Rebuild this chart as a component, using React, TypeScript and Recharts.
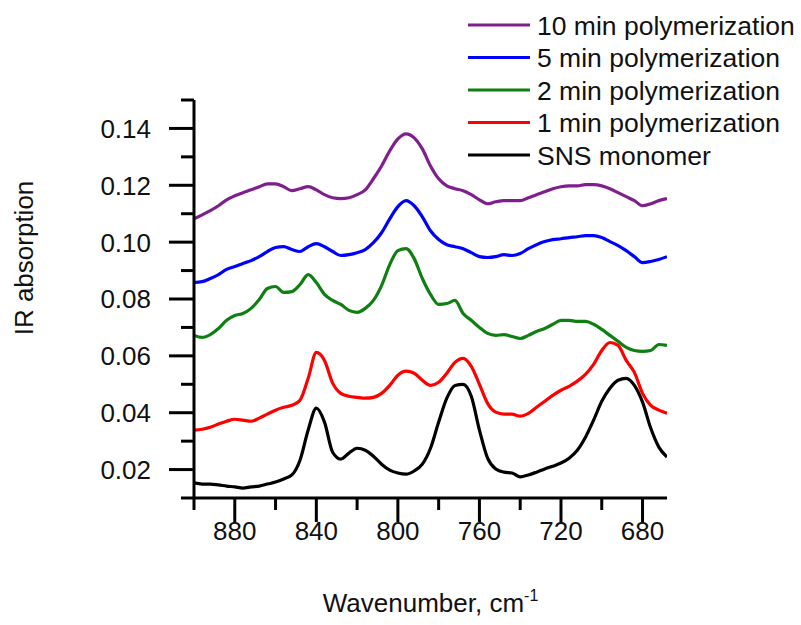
import { LineChart, Line, XAxis, YAxis, Legend } from 'recharts'

// wavenumber, cm-1 (axis runs high -> low)
const wavenumber = [
    900, 896, 892, 888, 884, 880, 876, 872, 868, 864, 860, 856, 852, 848, 844, 840, 836, 832, 828, 824,
    820, 816, 812, 808, 804, 800, 796, 792, 788, 784, 780, 776, 772, 768, 764, 760, 756, 752, 748, 744,
    740, 736, 732, 728, 724, 720, 716, 712, 708, 704, 700, 696, 692, 688, 684, 680, 676, 672, 668,
]

const snsMonomer = [
    0.0153, 0.0149, 0.0149, 0.0146, 0.0142, 0.0139, 0.0135, 0.0139, 0.0142, 0.0149, 0.0156, 0.0167, 0.0181, 0.0233, 0.0339, 0.0416, 0.0367, 0.0261, 0.0237, 0.0258,
    0.0275, 0.0268, 0.0247, 0.0219, 0.0198, 0.0188, 0.0184, 0.0195, 0.0219, 0.0275, 0.0367, 0.0451, 0.0496, 0.05, 0.0458, 0.0339, 0.024, 0.0202, 0.0191, 0.0188,
    0.0174, 0.0181, 0.0191, 0.0202, 0.0212, 0.0223, 0.024, 0.0268, 0.0314, 0.0374, 0.044, 0.0486, 0.0514, 0.0521, 0.0496, 0.0437, 0.0346, 0.0279, 0.0244,
]

const min1 = [
    0.0339, 0.0342, 0.0349, 0.036, 0.037, 0.0377, 0.0374, 0.037, 0.0381, 0.0395, 0.0409, 0.0419, 0.0426, 0.0444, 0.0521, 0.0612, 0.0584, 0.0504, 0.0468, 0.0458,
    0.0454, 0.0451, 0.0454, 0.0468, 0.0496, 0.0532, 0.0546, 0.0539, 0.0514, 0.0496, 0.0507, 0.0539, 0.0577, 0.0591, 0.0563, 0.05, 0.0433, 0.0402, 0.0395, 0.0395,
    0.0388, 0.0398, 0.0419, 0.044, 0.0461, 0.0479, 0.0493, 0.0511, 0.0535, 0.057, 0.0619, 0.0647, 0.0637, 0.0584, 0.0542, 0.0468, 0.0426, 0.0409, 0.0398,
]

const min2 = [
    0.0672, 0.0665, 0.0675, 0.0696, 0.0725, 0.0742, 0.0749, 0.0767, 0.0798, 0.0837, 0.0844, 0.0823, 0.0826, 0.0851, 0.0886, 0.0858, 0.0816, 0.0795, 0.0781, 0.076,
    0.0753, 0.0767, 0.0795, 0.0847, 0.0921, 0.097, 0.0977, 0.0942, 0.0872, 0.0816, 0.0781, 0.0784, 0.0795, 0.0749, 0.0725, 0.07, 0.0679, 0.0672, 0.0675, 0.0668,
    0.0661, 0.0672, 0.0686, 0.0696, 0.0711, 0.0725, 0.0725, 0.0721, 0.0721, 0.0711, 0.0693, 0.0672, 0.0651, 0.063, 0.0619, 0.0616, 0.0619, 0.064, 0.0637,
]

const min5 = [
    0.0858, 0.0861, 0.0872, 0.0886, 0.0904, 0.0914, 0.0925, 0.0935, 0.0949, 0.0967, 0.0981, 0.0984, 0.0974, 0.0967, 0.0984, 0.0995, 0.0984, 0.0967, 0.0953, 0.0956,
    0.0963, 0.0974, 0.0998, 0.1033, 0.1082, 0.1125, 0.1146, 0.1128, 0.1089, 0.104, 0.1009, 0.0991, 0.0984, 0.0977, 0.0963, 0.0949, 0.0946, 0.0949, 0.0956, 0.0953,
    0.096, 0.0977, 0.0991, 0.1002, 0.1009, 0.1012, 0.1016, 0.1019, 0.1023, 0.1023, 0.1016, 0.1002, 0.0988, 0.097, 0.0949, 0.0928, 0.0932, 0.0939, 0.0949,
]

const min10 = [
    0.1082, 0.1096, 0.1111, 0.1128, 0.1149, 0.1163, 0.1174, 0.1184, 0.1195, 0.1205, 0.1205, 0.1195, 0.1181, 0.1188, 0.1195, 0.1184, 0.1167, 0.1156, 0.1153, 0.1156,
    0.1167, 0.1184, 0.1223, 0.1268, 0.1321, 0.1363, 0.1381, 0.1367, 0.1328, 0.1268, 0.1223, 0.1198, 0.1188, 0.1181, 0.1167, 0.1149, 0.1135, 0.1142, 0.1146, 0.1146,
    0.1146, 0.1156, 0.1167, 0.1177, 0.1188, 0.1195, 0.1198, 0.1198, 0.1202, 0.1202, 0.1198, 0.1188, 0.1174, 0.116, 0.1146, 0.1128, 0.1135, 0.1146, 0.1153,
]

const xTicks = [900, 880, 860, 840, 820, 800, 780, 760, 740, 720, 700, 680]
const yTicks = [0.01, 0.02, 0.03, 0.04, 0.05, 0.06, 0.07, 0.08, 0.09, 0.1, 0.11, 0.12, 0.13, 0.14, 0.15]

const FONT = '"Liberation Sans", Arial, sans-serif'

// legend order top -> bottom
const series = [
    { key: 'min10', name: '10 min polymerization', color: '#7f1f8e' },
    { key: 'min5', name: '5 min polymerization', color: '#0000ff' },
    { key: 'min2', name: '2 min polymerization', color: '#0f7f12' },
    { key: 'min1', name: '1 min polymerization', color: '#ff0000' },
    { key: 'sns', name: 'SNS monomer', color: '#000000' },
]

const data = wavenumber.map((w, i) => ({
    w,
    sns: snsMonomer[i],
    min1: min1[i],
    min2: min2[i],
    min5: min5[i],
    min10: min10[i],
}))

const YTick = (props: any) => {
    const { x, y, payload } = props
    const v = payload.value
    const major = Math.round(v * 100) % 2 === 0
    return (
        <g>
            <line x1={x} x2={x - (major ? 25 : 13)} y1={y} y2={y} stroke="#000" strokeWidth={3} />
            {major && (
                <text x={x - 43} y={y} dy="0.36em" textAnchor="end" fontSize={26} fontFamily={FONT} fill="#111">
                    {v.toFixed(2)}
                </text>
            )}
        </g>
    )
}

const XTick = (props: any) => {
    const { x, y, payload } = props
    const v = payload.value
    const major = v % 40 === 0
    return (
        <g>
            <line x1={x} x2={x} y1={y} y2={y + (major ? 24 : 12)} stroke="#000" strokeWidth={3} />
            {major && (
                <text x={x} y={y + 42} textAnchor="middle" fontSize={26} fontFamily={FONT} fill="#111">
                    {v}
                </text>
            )}
        </g>
    )
}

const XTitle = (props: any) => {
    const vb = props.viewBox
    return (
        <text x={vb.x + vb.width / 2} y={vb.y + 114} textAnchor="middle" fontSize={26} fontFamily={FONT} fill="#111">
            Wavenumber, cm
            <tspan fontSize={16} dy={-11}>-1</tspan>
        </text>
    )
}

const YTitle = (props: any) => {
    const vb = props.viewBox
    const cx = 33
    const cy = vb.y + vb.height / 2 - 41
    return (
        <text x={cx} y={cy} transform={`rotate(-90 ${cx} ${cy})`} textAnchor="middle" fontSize={26} fontFamily={FONT} fill="#111">
            IR absorption
        </text>
    )
}

const LegendBox = () => (
    <svg width={340} height={170}>
        {series.map((s, i) => {
            const cy = 19 + i * 32.5
            return (
                <g key={s.key}>
                    <line x1={8} x2={70} y1={cy} y2={cy} stroke={s.color} strokeWidth={3} />
                    <text x={77} y={cy + 9.5} fontSize={26.5} fontFamily={FONT} fill="#111">
                        {s.name}
                    </text>
                </g>
            )
        })}
    </svg>
)

export default function App() {
    return (
        <div style={{ position: 'absolute', left: 0, top: 0, width: 801, height: 625, background: '#fff' }}>
            <LineChart width={801} height={625} data={data} margin={{ top: 100, right: 134, left: 0, bottom: 0 }}>
                <XAxis
                    dataKey="w"
                    type="number"
                    domain={[668, 900]}
                    reversed
                    allowDataOverflow
                    ticks={xTicks}
                    interval={0}
                    height={127}
                    tickSize={0}
                    tickMargin={0}
                    tickLine={false}
                    tick={<XTick />}
                    axisLine={{ stroke: '#000', strokeWidth: 3 }}
                    label={{ content: <XTitle /> }}
                />
                <YAxis
                    type="number"
                    domain={[0.01, 0.15]}
                    allowDataOverflow
                    ticks={yTicks}
                    interval={0}
                    width={194}
                    tickSize={0}
                    tickMargin={0}
                    tickLine={false}
                    tick={<YTick />}
                    axisLine={{ stroke: '#000', strokeWidth: 3 }}
                    label={{ content: <YTitle /> }}
                />
                <Legend
                    layout="vertical"
                    align="center"
                    verticalAlign="middle"
                    wrapperStyle={{ position: 'absolute', left: 460, top: 6, width: 340, height: 170 }}
                    content={() => <LegendBox />}
                />
                {series
                    .slice()
                    .reverse()
                    .map((s) => (
                        <Line
                            key={s.key}
                            dataKey={s.key}
                            name={s.name}
                            stroke={s.color}
                            strokeWidth={3.2}
                            dot={false}
                            type="monotone"
                            isAnimationActive={false}
                        />
                    ))}
            </LineChart>
        </div>
    )
}
